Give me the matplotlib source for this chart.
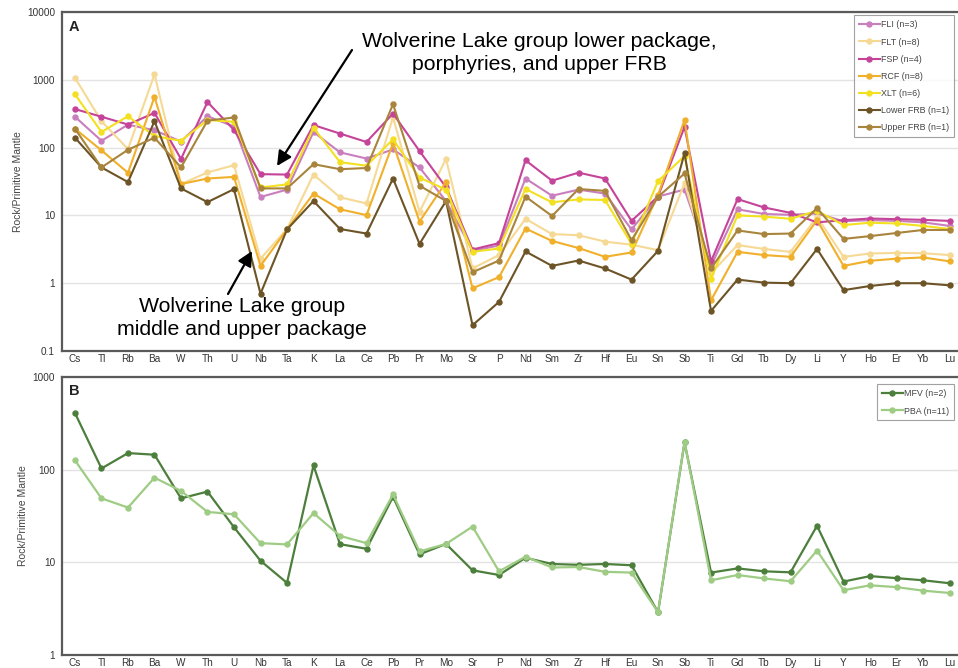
import matplotlib
matplotlib.use("Agg")
import matplotlib.pyplot as plt
from matplotlib.patches import FancyArrowPatch
from matplotlib.ticker import FixedLocator, NullLocator

plt.rcParams['font.family'] = ['Liberation Sans', 'DejaVu Sans']

elements = ['Cs', 'Tl', 'Rb', 'Ba', 'W', 'Th', 'U', 'Nb', 'Ta', 'K', 'La', 'Ce', 'Pb', 'Pr',
            'Mo', 'Sr', 'P', 'Nd', 'Sm', 'Zr', 'Hf', 'Eu', 'Sn', 'Sb', 'Ti', 'Gd', 'Tb', 'Dy',
            'Li', 'Y', 'Ho', 'Er', 'Yb', 'Lu']

# Panel A: Wolverine Lake group units and Fire Rock Basalt (FRB)
fli = [285, 126, 218, 180, 123, 290, 205, 18.7, 24, 170, 85, 69, 94, 51, 16.3, 3.0, 3.6, 35,
       19.5, 24, 21, 6.2, 19, 24, 1.8, 12.3, 10.5, 10.2, 10.7, 8.2, 8.5, 8.3, 7.9, 7.0]
flt = [1070, 245, 95, 1200, 29, 43, 55, 2.3, 6.3, 40, 18.5, 15, 280, 11.3, 68, 1.65, 2.6, 8.9,
       5.3, 5.1, 4.1, 3.7, 3.07, 30, 1.4, 3.65, 3.2, 2.9, 9.5, 2.45, 2.74, 2.8, 2.77, 2.6]
fsp = [370, 285, 219, 325, 68, 470, 182, 40.6, 40, 215, 161, 121, 318, 89, 26, 3.14, 3.9, 65,
       32.5, 42.7, 35, 8.3, 19, 202, 2.1, 17.4, 13.1, 10.9, 7.9, 8.5, 9.0, 8.8, 8.6, 8.3]
rcf = [190, 91, 42.5, 560, 29, 35, 37, 1.8, 6.2, 21, 12.3, 10.1, 116, 8.1, 31, 0.84, 1.23, 6.4,
       4.2, 3.3, 2.45, 2.84, 20, 255, 0.56, 2.9, 2.6, 2.45, 8.5, 1.8, 2.14, 2.3, 2.4, 2.1]
xlt = [610, 170, 290, 148, 126, 255, 240, 25.8, 28.6, 196, 61, 54, 132, 36, 24, 2.9, 3.25, 24.5,
       15.6, 17.2, 16.9, 3.8, 32, 75, 1.17, 10, 9.6, 8.9, 11.7, 7.2, 7.8, 7.6, 7.0, 6.3]
lower_frb = [140, 51, 31, 245, 25, 15.7, 24.4, 0.70, 6.2, 16.3, 6.3, 5.4, 35, 3.8, 16.3, 0.24,
             0.53, 2.94, 1.8, 2.16, 1.65, 1.13, 3.0, 83, 0.39, 1.13, 1.02, 1.0, 3.2, 0.79, 0.91,
             1.0, 1.0, 0.93]
upper_frb = [190, 51, 93, 140, 51, 250, 278, 25, 25, 57, 48, 50, 437, 27.4, 16.3, 1.45, 2.16,
             18.9, 9.8, 24.5, 23, 4.3, 18.8, 41.5, 1.65, 6.0, 5.3, 5.4, 12.8, 4.5, 4.95, 5.5,
             6.1, 6.1]

# Panel B: MFV and PBA
mfv = [408, 103, 151, 145, 49, 58, 23.9, 10.4, 6.0, 111, 15.7, 14.0, 51, 12.2, 15.8, 8.2, 7.3,
       11.2, 9.6, 9.4, 9.6, 9.3, 2.89, 197, 7.75, 8.6, 8.0, 7.8, 24.8, 6.2, 7.1, 6.75, 6.4, 5.95]
pba = [126, 49, 39, 82, 59, 35, 33, 16.1, 15.6, 34, 19.3, 16.1, 54, 13.1, 15.8, 24.3, 8.0, 11.5,
       8.8, 8.9, 7.9, 7.75, 2.9, 200, 6.4, 7.3, 6.7, 6.25, 13.4, 5.0, 5.65, 5.4, 4.95, 4.67]

series_a = [
    ('FLI (n=3)', fli, '#c97fbd'),
    ('FLT (n=8)', flt, '#f6d994'),
    ('FSP (n=4)', fsp, '#c5449a'),
    ('RCF (n=8)', rcf, '#f0b02c'),
    ('XLT (n=6)', xlt, '#f3e021'),
    ('Lower FRB (n=1)', lower_frb, '#6d5426'),
    ('Upper FRB (n=1)', upper_frb, '#a8843c'),
]
series_b = [
    ('MFV (n=2)', mfv, '#4d7f3c'),
    ('PBA (n=11)', pba, '#9fcc84'),
]

ticks_a = [0.1, 1, 10, 100, 1000, 10000]
ticklabels_a = ['0.1', '1', '10', '100', '1000', '10000']
ticks_b = [1, 10, 100, 1000]
ticklabels_b = ['1', '10', '100', '1000']

W, H = 958, 668
fig = plt.figure(figsize=(W / 100, H / 100), dpi=100)


def frac(x, y):
    return x / W, 1 - y / H


def make_axes(top, bottom):
    left, right = 62, 975
    return fig.add_axes([left / W, 1 - bottom / H, (right - left) / W, (bottom - top) / H])


axA = make_axes(12, 351)
axB = make_axes(377, 655)

x = list(range(len(elements)))
spine_col = '#5a5a5a'


def style(ax, ticks, labels, ylim, letter):
    ax.set_yscale('log')
    ax.set_ylim(*ylim)
    ax.set_xlim(-0.49, 33.96)
    ax.yaxis.set_major_locator(FixedLocator(ticks))
    ax.set_yticklabels(labels)
    ax.yaxis.set_minor_locator(NullLocator())
    ax.set_xticks(x)
    ax.set_xticklabels(elements)
    ax.tick_params(axis='both', length=0, labelsize=7.2, labelcolor='#333333')
    ax.tick_params(axis='x', pad=2)
    ax.tick_params(axis='y', pad=5)
    ax.grid(axis='y', color='#e3e3e3', lw=1.0)
    ax.set_axisbelow(True)
    for s in ['left', 'bottom', 'top', 'right']:
        ax.spines[s].set_color(spine_col)
        ax.spines[s].set_linewidth(1.6)
    ax.set_ylabel('Rock/Primitive Mantle', fontsize=7.5, color='#444444', labelpad=3)
    ax.text(0.0075, 0.975, letter, transform=ax.transAxes, fontsize=10.5, fontweight='bold',
            color='#222222', ha='left', va='top')


for label, vals, col in series_a:
    axA.plot(x, vals, color=col, lw=1.5, marker='o', ms=3.6, label=label)
for label, vals, col in series_b:
    axB.plot(x, vals, color=col, lw=1.6, marker='o', ms=3.6, label=label)

style(axA, ticks_a, ticklabels_a, (0.1, 10000), 'A')
style(axB, ticks_b, ticklabels_b, (1, 1000), 'B')

leg_kw = dict(loc='upper right', bbox_transform=fig.transFigure, fontsize=6.4, frameon=True,
              fancybox=False, edgecolor='#8a8a8a', handlelength=2.3, handletextpad=0.1,
              labelspacing=0.92, borderpad=0.55, labelcolor='#444444')
legA = axA.legend(bbox_to_anchor=frac(958, 11), **leg_kw)
legA.get_frame().set_linewidth(0.8)
legB = axB.legend(bbox_to_anchor=frac(958, 380), **leg_kw)
legB.get_frame().set_linewidth(0.8)

# Callouts
fig.text(*frac(539, 53), 'Wolverine Lake group lower package,\nporphyries, and upper FRB',
         fontsize=15.3, ha='center', va='center', linespacing=1.3, color='black')
fig.text(*frac(242, 318), 'Wolverine Lake group\nmiddle and upper package',
         fontsize=15.3, ha='center', va='center', linespacing=1.3, color='black')

arrow_kw = dict(arrowstyle='-|>', color='black', lw=1.6, mutation_scale=22, shrinkA=0, shrinkB=0)
fig.add_artist(FancyArrowPatch(frac(352, 50), frac(277, 166),
                               transform=fig.transFigure, **arrow_kw))
fig.add_artist(FancyArrowPatch(frac(228, 294), frac(252, 251),
                               transform=fig.transFigure, **arrow_kw))

fig.savefig('out.png', dpi=100)
